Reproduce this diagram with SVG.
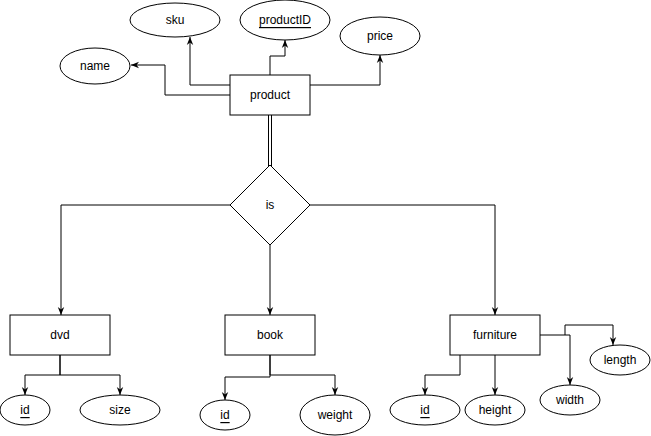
<svg xmlns="http://www.w3.org/2000/svg" width="651" height="436" viewBox="0 0 651 436">
<style>
.box{fill:#fff;stroke:#000;stroke-width:1}
.attr{fill:#fff;stroke:#000;stroke-width:1}
.edge{fill:none;stroke:#000;stroke-width:1}
.lbl{font-family:"Liberation Sans",Arial,Helvetica,sans-serif;font-size:12px;fill:#000;text-anchor:middle;dominant-baseline:central}
.key{text-decoration:underline}
</style>
<defs>
<marker id="arr" viewBox="0 0 10 10" refX="10" refY="5" markerWidth="8" markerHeight="8" markerUnits="userSpaceOnUse" orient="auto">
<path d="M0,1 L10,5 L0,9 L3,5 Z" fill="#000"/>
</marker>
</defs>
<rect width="651" height="436" fill="#fff"/>
<g id="connectors">
<polyline class="edge" points="230,95 165,95 165,65 131,65" marker-end="url(#arr)"/>
<polyline class="edge" points="230,85 190,85 190,37" marker-end="url(#arr)"/>
<polyline class="edge" points="270,75 270,56 285,56 285,40" marker-end="url(#arr)"/>
<polyline class="edge" points="310,85 380,85 380,55" marker-end="url(#arr)"/>
<line class="edge" x1="268.5" y1="115" x2="268.5" y2="166"/>
<line class="edge" x1="271.5" y1="115" x2="271.5" y2="166"/>
<polyline class="edge" points="230,205 61,205 61,315" marker-end="url(#arr)"/>
<polyline class="edge" points="270,245 270,315" marker-end="url(#arr)"/>
<polyline class="edge" points="310,205 495,205 495,315" marker-end="url(#arr)"/>
<polyline class="edge" points="60,355 60,375 25,375 25,395" marker-end="url(#arr)"/>
<polyline class="edge" points="60,355 60,375 120,375 120,395" marker-end="url(#arr)"/>
<polyline class="edge" points="270,355 270,377 225,377 225,400" marker-end="url(#arr)"/>
<polyline class="edge" points="270,355 270,375 335,375 335,395" marker-end="url(#arr)"/>
<polyline class="edge" points="460,355 460,375 425,375 425,395" marker-end="url(#arr)"/>
<polyline class="edge" points="495,355 495,395" marker-end="url(#arr)"/>
<polyline class="edge" points="540,335 570,335 570,385" marker-end="url(#arr)"/>
<polyline class="edge" points="565,335 565,325 613,325 613,345" marker-end="url(#arr)"/>
</g>
<g id="product"><rect class="box" x="230" y="75" width="80" height="40"/><text class="lbl" x="270" y="95">product</text></g>
<g id="name"><ellipse class="attr" cx="95" cy="66" rx="35" ry="18"/><text class="lbl" x="95" y="66">name</text></g>
<g id="sku"><ellipse class="attr" cx="175" cy="20" rx="45" ry="17"/><text class="lbl" x="175" y="20">sku</text></g>
<g id="productID"><ellipse class="attr" cx="285" cy="20" rx="45" ry="20"/><text class="lbl key" x="285" y="20">productID</text></g>
<g id="price"><ellipse class="attr" cx="380" cy="36" rx="40" ry="19"/><text class="lbl" x="380" y="36">price</text></g>
<g id="is"><polygon class="box" points="270,165 310,205 270,245 230,205"/><text class="lbl" x="270" y="205">is</text></g>
<g id="dvd"><rect class="box" x="10" y="315" width="100" height="40"/><text class="lbl" x="60" y="335">dvd</text></g>
<g id="book"><rect class="box" x="225" y="315" width="90" height="40"/><text class="lbl" x="270" y="335">book</text></g>
<g id="furniture"><rect class="box" x="450" y="315" width="90" height="40"/><text class="lbl" x="495" y="335">furniture</text></g>
<g id="dvd_id"><ellipse class="attr" cx="25" cy="410" rx="25" ry="15"/><text class="lbl key" x="25" y="410">id</text></g>
<g id="size"><ellipse class="attr" cx="120" cy="410" rx="40" ry="15"/><text class="lbl" x="120" y="410">size</text></g>
<g id="book_id"><ellipse class="attr" cx="225" cy="415" rx="25" ry="15"/><text class="lbl key" x="225" y="415">id</text></g>
<g id="weight"><ellipse class="attr" cx="335" cy="415" rx="35" ry="20"/><text class="lbl" x="335" y="415">weight</text></g>
<g id="furniture_id"><ellipse class="attr" cx="425" cy="410" rx="35" ry="15"/><text class="lbl key" x="425" y="410">id</text></g>
<g id="height"><ellipse class="attr" cx="495" cy="410" rx="30" ry="15"/><text class="lbl" x="495" y="410">height</text></g>
<g id="width"><ellipse class="attr" cx="570" cy="400" rx="30" ry="15"/><text class="lbl" x="570" y="400">width</text></g>
<g id="length"><ellipse class="attr" cx="620" cy="360" rx="30" ry="15"/><text class="lbl" x="620" y="360">length</text></g>
</svg>
